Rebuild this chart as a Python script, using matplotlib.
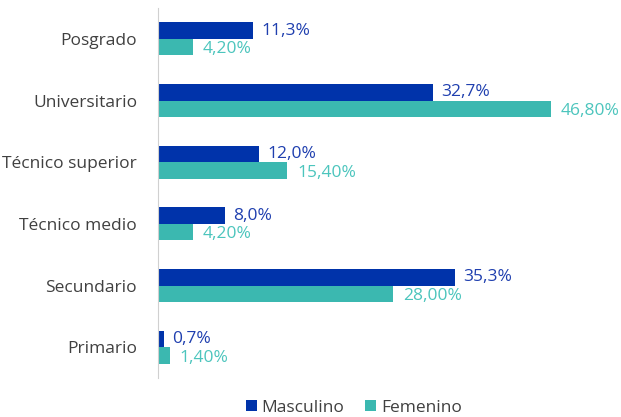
import matplotlib
matplotlib.use("Agg")
import matplotlib.pyplot as plt
import numpy as np

categories = ["Posgrado", "Universitario", "Técnico superior", "Técnico medio", "Secundario", "Primario"]
masculino = [11.3, 32.7, 12.0, 8.0, 35.3, 0.7]
femenino = [4.20, 46.80, 15.40, 4.20, 28.00, 1.40]
masc_labels = ["11,3%", "32,7%", "12,0%", "8,0%", "35,3%", "0,7%"]
fem_labels = ["4,20%", "46,80%", "15,40%", "4,20%", "28,00%", "1,40%"]

plt.rcParams['font.family'] = ['Open Sans', 'DejaVu Sans']

c_m = "#0033AA"
c_f = "#3BB8B0"
t_m = "#1F3FAF"
t_f = "#4CC5BD"

fig = plt.figure(figsize=(6.21, 4.17), dpi=100)
ax = fig.add_axes([158 / 621, 1 - 378 / 417, (620 - 158) / 621, (378 - 8) / 417])

y = np.arange(len(categories))
h = 0.27
ax.barh(y - h / 2, masculino, height=h, color=c_m, label="Masculino")
ax.barh(y + h / 2, femenino, height=h, color=c_f, label="Femenino")

fs = 12.5
for i in range(len(categories)):
    ax.annotate(masc_labels[i], (masculino[i], y[i] - h / 2), xytext=(6, 0), textcoords="offset points",
                va="center", ha="left", color=t_m, fontsize=fs)
    ax.annotate(fem_labels[i], (femenino[i], y[i] + h / 2), xytext=(7, -1.5), textcoords="offset points",
                va="center", ha="left", color=t_f, fontsize=fs, annotation_clip=False)

ax.set_yticks(y)
ax.set_yticklabels(categories, fontsize=fs, color="#404040")
ax.set_ylim(len(categories) - 0.5, -0.5)
ax.set_xlim(0, 55)
ax.set_xticks([])
ax.tick_params(axis="y", length=0, pad=15)
for s in ["top", "right", "bottom"]:
    ax.spines[s].set_visible(False)
ax.spines["left"].set_color("#D0D0D0")

leg = fig.legend(loc="lower center", bbox_to_anchor=(354 / 621, -0.035), ncol=2, frameon=False,
                 fontsize=fs, handlelength=0.6, handleheight=0.6, columnspacing=1.2, handletextpad=0.3)
for t in leg.get_texts():
    t.set_color("#404040")

fig.savefig("out.png", dpi=100)
